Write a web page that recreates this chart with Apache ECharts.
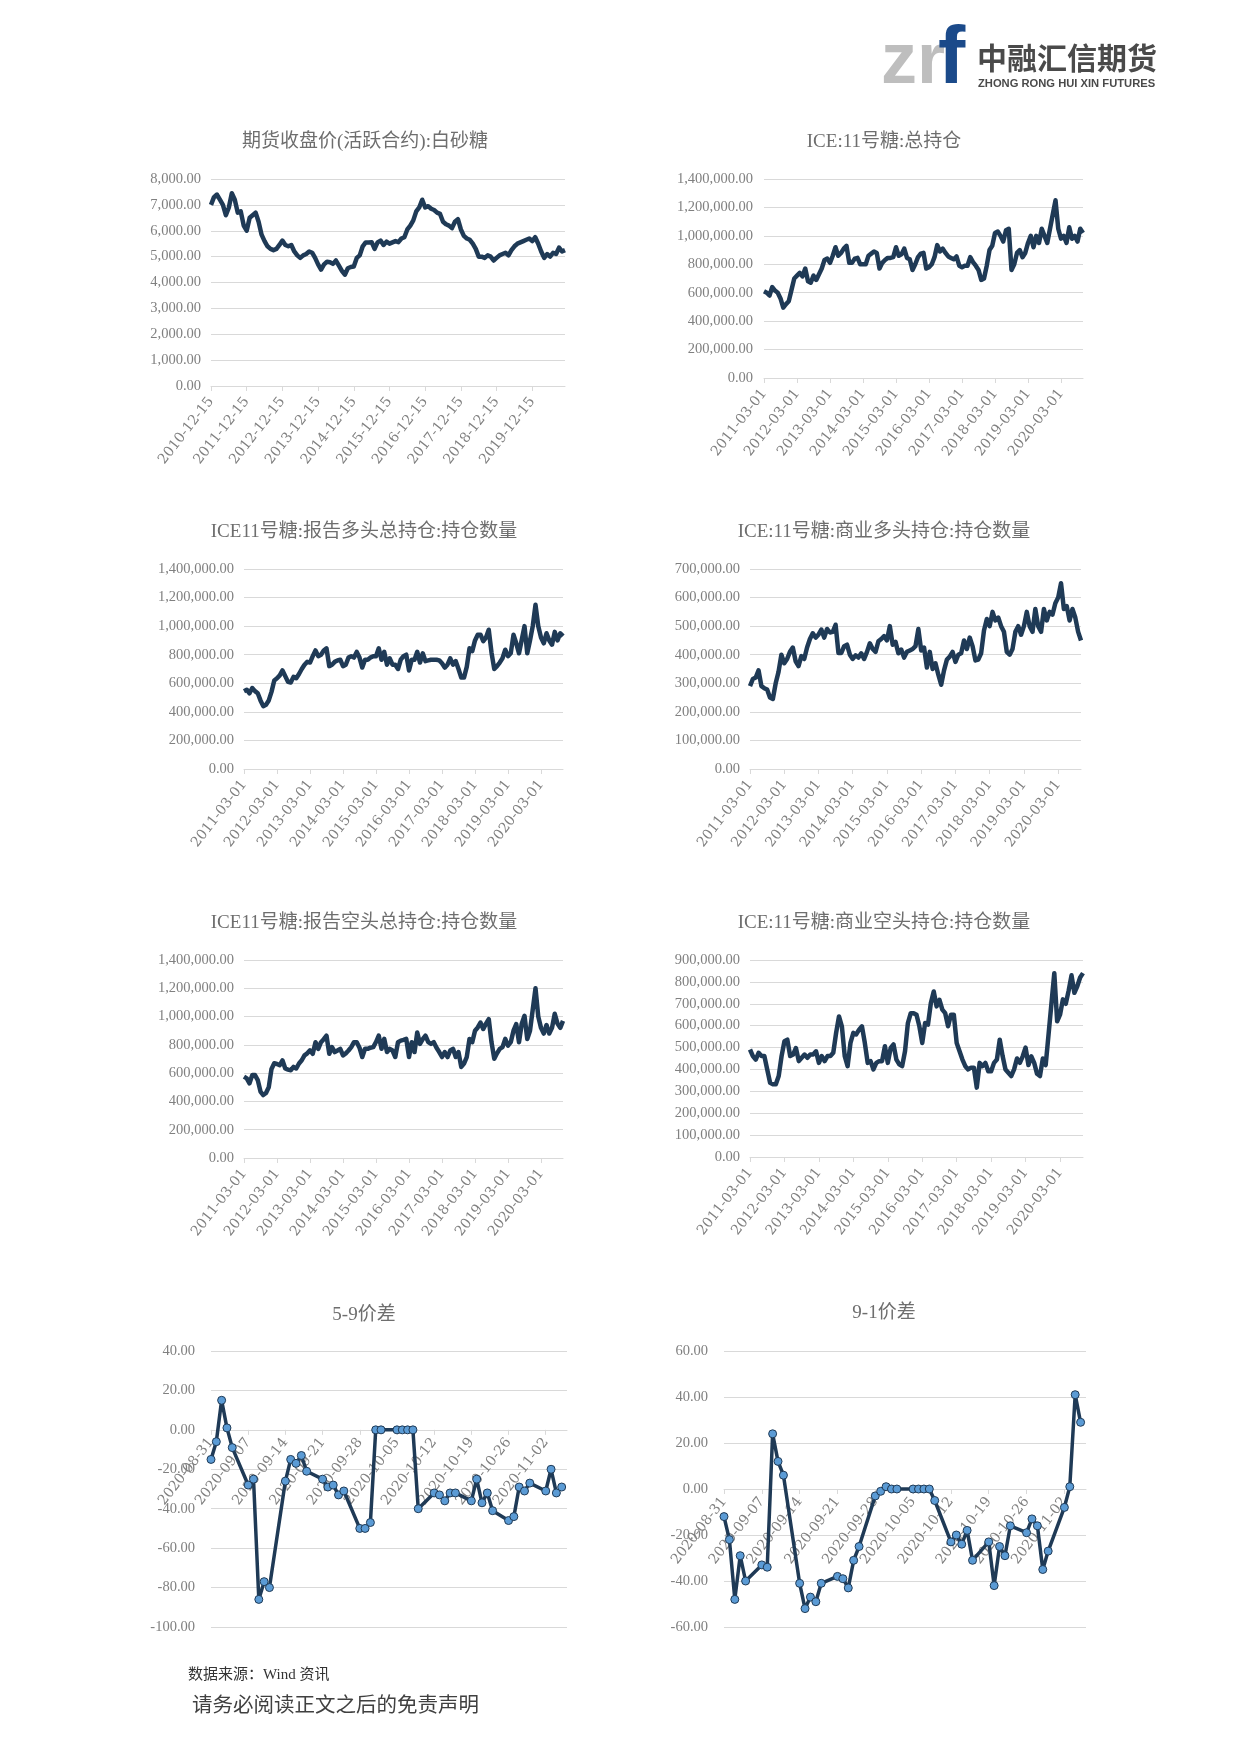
<!DOCTYPE html>
<html><head><meta charset="utf-8">
<script src="https://cdn.jsdelivr.net/npm/echarts@6/dist/echarts.min.js"></script>
<style>html,body{margin:0;padding:0;background:#fff}#c{width:1240px;height:1753px}</style>
</head><body><div id="c"></div>
<script>
// ---------------- DATA ----------------
const priceTickLabels = ['2010-12-15','2011-12-15','2012-12-15','2013-12-15','2014-12-15','2015-12-15','2016-12-15','2017-12-15','2018-12-15','2019-12-15'];
const cotTickLabels = ['2011-03-01','2012-03-01','2013-03-01','2014-03-01','2015-03-01','2016-03-01','2017-03-01','2018-03-01','2019-03-01','2020-03-01'];
const spreadTickLabels = ['2020-08-31','2020-09-07','2020-09-14','2020-09-21','2020-09-28','2020-10-05','2020-10-12','2020-10-19','2020-10-26','2020-11-02'];

// 期货收盘价(活跃合约):白砂糖, monthly 2010-12 .. 2020-11
const sugarPrice = [7000,7300,7400,7200,7000,6600,6900,7450,7200,6700,6750,6200,
6000,6500,6600,6700,6350,5850,5600,5400,5300,5250,5300,5450,
5620,5450,5400,5450,5200,5050,4950,5050,5100,5200,5150,4950,
4700,4500,4700,4800,4780,4720,4850,4650,4450,4300,4550,4600,
4620,4950,5050,5400,5550,5550,5560,5300,5550,5620,5450,5580,
5500,5550,5600,5560,5700,5750,6050,6200,6400,6750,6900,7200,
6900,6950,6850,6800,6700,6650,6350,6250,6200,6100,6350,6450,
6050,5800,5700,5650,5500,5300,5000,5000,4950,5050,5000,4850,
4950,5050,5100,5150,5050,5250,5400,5500,5550,5600,5650,5700,
5600,5750,5500,5200,4950,5100,5000,5150,5100,5350,5200,5250];

// ICE:11号糖:总持仓 (thousand lots), monthly 2011-03 .. 2020-11
const iceTotalOI = [610,600,580,640,615,600,560,495,520,540,620,700,
720,740,715,770,680,670,720,690,730,770,830,840,
810,860,920,860,880,910,930,810,810,840,845,800,
800,800,860,875,890,880,770,810,830,845,845,850,
920,860,870,910,845,835,760,800,850,875,880,770,
780,800,850,935,890,910,880,855,845,835,855,790,
780,790,790,850,815,790,760,690,700,790,900,930,
1020,1030,1000,960,1040,1050,760,800,880,900,850,880,
950,1000,920,1000,950,1050,1000,950,1050,1150,1250,1050,
980,1000,950,1060,980,1000,960,1050,1020];

// ICE11号糖:报告多头总持仓:持仓数量
const iceLongTotal = [545,555,530,567,545,530,480,440,450,480,540,620,
635,655,690,650,610,605,645,635,665,700,730,750,
745,790,830,790,800,830,845,720,730,750,760,765,
720,730,780,790,780,820,780,710,765,765,780,790,
790,845,765,820,730,775,730,730,700,765,790,800,
690,765,765,820,745,810,755,760,765,765,765,760,
740,710,730,775,730,755,700,640,640,715,845,825,
900,940,940,895,920,975,815,700,720,745,775,835,
790,810,940,880,810,905,1000,810,900,1000,1150,1000,
920,880,950,900,870,960,900,950,930];

// ICE:11号糖:商业多头持仓:持仓数量
const iceCommLong = [290,315,320,345,290,283,278,250,245,300,340,400,
370,385,410,425,377,360,395,385,425,455,475,460,
470,488,460,490,478,480,505,406,406,430,435,400,
385,398,390,405,385,410,440,420,410,447,455,465,
450,500,435,445,405,418,390,410,415,420,430,490,
415,425,355,410,350,370,330,295,345,383,393,410,
375,400,405,450,420,460,430,380,383,405,485,525,
500,550,520,530,500,480,410,400,420,480,500,470,
500,550,500,480,560,500,480,560,520,550,540,580,
600,650,560,570,520,560,530,480,450];

// ICE11号糖:报告空头总持仓:持仓数量
const iceShortTotal = [575,563,528,586,586,551,470,445,460,500,630,670,
665,656,690,633,625,621,644,633,668,691,726,740,
761,737,819,772,819,840,865,737,784,749,760,772,
726,740,760,784,819,819,780,714,772,772,780,784,
820,865,772,842,749,772,760,714,819,830,835,842,
714,819,749,888,807,840,865,819,807,819,780,749,
714,749,714,760,772,714,749,644,668,714,842,819,
900,923,958,912,950,982,819,702,740,772,784,842,
795,819,900,947,819,950,1005,842,900,1050,1200,1000,
920,880,940,880,920,1020,950,920,970];

// ICE:11号糖:商业空头持仓:持仓数量
const iceCommShort = [491,461,445,476,461,461,400,339,332,332,370,461,
529,536,461,468,498,438,453,468,453,468,468,483,
430,461,438,461,461,476,567,642,597,461,415,521,
567,560,582,597,521,430,438,400,430,438,438,506,
430,498,514,445,423,415,483,612,657,657,650,597,
521,612,605,703,756,688,718,673,657,597,650,650,
521,483,445,415,400,408,408,317,430,415,430,392,
392,430,445,536,461,400,385,370,400,450,430,460,
500,420,460,430,380,370,450,420,560,700,840,620,
650,720,700,760,830,750,780,820,840];

// 5-9价差 / 9-1价差, one entry per calendar day 2020-08-31 .. 2020-11-06 (null = no trading)
const spread59 = [-15,-6,15,1,-9,null,null,
-28,-25,-86,-77,-80,null,null,
-26,-15,-17,-13,-21,null,null,
-25,-29,-28,-33,-31,null,null,
-50,-50,-47,0,0,null,null,
0,0,0,0,-40,null,null,
-32,-33,-36,-32,-32,null,null,
-36,-25,-37,-32,-41,null,null,
-46,-44,-29,-31,-27,null,null,
-31,-20,-32,-29,null];
const spread91 = [-12,-22,-48,-29,-40,null,null,
-33,-34,24,12,6,null,null,
-41,-52,-47,-49,-41,null,null,
-38,-39,-43,-31,-25,null,null,
-3,-1,1,0,0,null,null,
0,0,0,0,-5,null,null,
-23,-20,-24,-18,-31,null,null,
-23,-42,-25,-29,-16,null,null,
-19,-13,-16,-35,-27,null,null,
-8,1,41,29,null];

// ---------------- CATEGORIES ----------------
function monthSeries(y, m, n, d) {
  const out = [];
  for (let i = 0; i < n; i++) {
    const k = m - 1 + i;
    out.push((y + Math.floor(k / 12)) + '-' + String(k % 12 + 1).padStart(2, '0') + '-' + d);
  }
  return out;
}
function daySeries(start, n) {
  const t0 = Date.parse(start + 'T00:00:00Z');
  const out = [];
  for (let i = 0; i < n; i++) out.push(new Date(t0 + i * 86400000).toISOString().slice(0, 10));
  return out;
}
const priceDates = monthSeries(2010, 12, sugarPrice.length, '15');
const cotDates = monthSeries(2011, 3, iceTotalOI.length, '01');
const spreadDates = daySeries('2020-08-31', spread59.length);

// ---------------- STYLE / LAYOUT ----------------
const LINE = '#1F3A56';
const GRIDC = '#D9D9D9';
const LABC = '#808080';
const TITC = '#6E6E6E';
const LATIN = "'Liberation Serif', 'Noto Sans CJK SC', serif";
const XFONT = "'DejaVu Serif', 'Liberation Serif', serif";

const panels = [
  {title:'期货收盘价(活跃合约):白砂糖', cats:priceDates, ticks:priceTickLabels, data:sugarPrice, scale:1, min:0, max:8000, step:1000,
   grid:{left:211, top:179, width:354, height:207}, tx:365, ty:142, ym:10},
  {title:'ICE:11号糖:总持仓', cats:cotDates, ticks:cotTickLabels, data:iceTotalOI, scale:1000, min:0, max:1400000, step:200000,
   grid:{left:764, top:179, width:319, height:199}, tx:884, ty:142, ym:11},
  {title:'ICE11号糖:报告多头总持仓:持仓数量', cats:cotDates, ticks:cotTickLabels, data:iceLongTotal, scale:1000, min:0, max:1400000, step:200000,
   grid:{left:244, top:569, width:319, height:200}, tx:364, ty:532, ym:10},
  {title:'ICE:11号糖:商业多头持仓:持仓数量', cats:cotDates, ticks:cotTickLabels, data:iceCommLong, scale:1000, min:0, max:700000, step:100000,
   grid:{left:750, top:569, width:331, height:200}, tx:884, ty:532, ym:10},
  {title:'ICE11号糖:报告空头总持仓:持仓数量', cats:cotDates, ticks:cotTickLabels, data:iceShortTotal, scale:1000, min:0, max:1400000, step:200000,
   grid:{left:244, top:960, width:319, height:198}, tx:364, ty:923, ym:10},
  {title:'ICE:11号糖:商业空头持仓:持仓数量', cats:cotDates, ticks:cotTickLabels, data:iceCommShort, scale:1000, min:0, max:900000, step:100000,
   grid:{left:750, top:960, width:333, height:197}, tx:884, ty:923, ym:10},
  {title:'5-9价差', cats:spreadDates, ticks:spreadTickLabels, data:spread59, scale:1, min:-100, max:40, step:20, spread:true,
   grid:{left:211, top:1351, width:356, height:276}, tx:364, ty:1315, ym:16},
  {title:'9-1价差', cats:spreadDates, ticks:spreadTickLabels, data:spread91, scale:1, min:-60, max:60, step:20, spread:true,
   grid:{left:724, top:1351, width:362, height:276}, tx:884, ty:1313, ym:16}
];

function fmt(v) {
  return Number(v).toLocaleString('en-US', {minimumFractionDigits:2, maximumFractionDigits:2});
}

const option = {
  backgroundColor:'#fff',
  animation:false,
  title:[], grid:[], xAxis:[], yAxis:[], series:[],
  graphic:[
    {type:'text', x:881, y:63, style:{text:'zr', font:'bold 72px "Liberation Sans"', fill:'#BEBEBE', verticalAlign:'middle'}},
    {type:'text', x:938, y:60, style:{text:'f', font:'bold 82px "Liberation Sans"', fill:'#1B4A8A', verticalAlign:'middle'}},
    {type:'text', x:977, y:58, style:{text:'中融汇信期货', font:'bold 30px "Noto Sans CJK SC"', fill:'#4A4A4A', verticalAlign:'middle'}},
    {type:'text', x:978, y:84, style:{text:'ZHONG RONG HUI XIN FUTURES', font:'bold 11.2px "Liberation Sans"', fill:'#4A4A4A', verticalAlign:'middle'}},
    {type:'text', x:188, y:1675, style:{text:'数据来源：Wind 资讯', font:'15px "Liberation Serif", "Noto Sans CJK SC"', fill:'#333', verticalAlign:'middle'}},
    {type:'text', x:192, y:1704, style:{text:'请务必阅读正文之后的免责声明', font:'20.5px "Noto Sans CJK SC"', fill:'#404040', verticalAlign:'middle'}}
  ]
};

panels.forEach((p, i) => {
  const every = p.spread ? 7 : 12;
  // distance from grid bottom up to the zero line (spread charts put the category axis on zero)
  const zeroOffset = p.spread ? -p.grid.height * (0 - p.min) / (p.max - p.min) : 0;
  option.title.push({
    text:p.title, left:p.tx, top:p.ty, textAlign:'center', textVerticalAlign:'middle', padding:0,
    textStyle:{fontFamily:LATIN, fontSize:19, fontWeight:'normal', color:TITC}
  });
  option.grid.push(Object.assign({containLabel:false}, p.grid));
  option.xAxis.push({
    type:'category', gridIndex:i, data:p.cats, boundaryGap:false, position:'bottom', offset:zeroOffset,
    axisLine:{show:true, onZero:false, lineStyle:{color:GRIDC, width:1}},
    axisTick:{show:true, length:5, interval:(idx) => idx % every === 0, lineStyle:{color:GRIDC}},
    axisLabel:{interval:(idx) => idx % every === 0, rotate:52, margin:p.spread ? 10 : 13, color:LABC, fontFamily:XFONT, fontSize:14,
      formatter:(v, idx) => p.ticks[Math.round(idx / every)] || v},
    splitLine:{show:false}
  });
  option.yAxis.push({
    type:'value', gridIndex:i, min:p.min, max:p.max, interval:p.step,
    axisLine:{show:false}, axisTick:{show:false},
    splitLine:{show:true, lineStyle:{color:GRIDC, width:1}},
    axisLabel:{formatter:fmt, margin:p.ym, color:LABC, fontFamily:LATIN, fontSize:14.5}
  });
  const vals = p.data.map(v => v == null ? null : v * p.scale);
  option.series.push(p.spread ? {
    type:'line', xAxisIndex:i, yAxisIndex:i, data:vals, connectNulls:true,
    symbol:'circle', symbolSize:8, showSymbol:true, showAllSymbol:true,
    itemStyle:{color:'#5B9BD5', borderColor:LINE, borderWidth:1},
    lineStyle:{color:LINE, width:3.5}, z:3
  } : {
    type:'line', xAxisIndex:i, yAxisIndex:i, data:vals, showSymbol:false, symbol:'none',
    lineStyle:{color:LINE, width:4.5, join:'round'}
  });
});

const chart = echarts.init(document.getElementById('c'), null, {renderer:'canvas'});
chart.setOption(option);
</script></body></html>
